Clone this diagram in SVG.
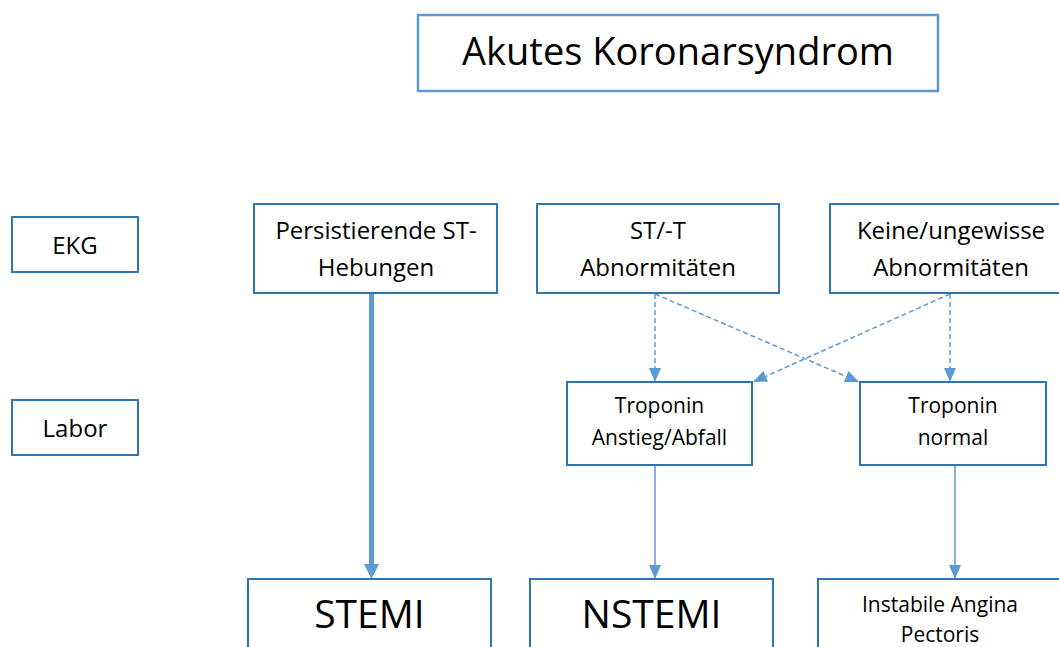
<svg xmlns="http://www.w3.org/2000/svg" width="1059" height="647" viewBox="0 0 1059 647">
  <defs>
    <style>
      .box { fill: #ffffff; stroke: #2E75B6; stroke-width: 2; }
      .title { fill: #ffffff; stroke: #5B9BD5; stroke-width: 2.5; }
      text { font-family: "Open Sans", "Liberation Sans", sans-serif; fill: #000000; text-anchor: middle; }
      .t38 { font-size: 38px; }
      .t23 { font-size: 24px; }
      .t19 { font-size: 21px; }
      .t34 { font-size: 39px; }
      .conn { stroke: #5B9BD5; stroke-width: 1.5; fill: none; }
      .dash { stroke-dasharray: 5 3; }
      .thick { stroke-width: 5; }
    </style>
    <marker id="arr" markerUnits="userSpaceOnUse" markerWidth="14" markerHeight="12" refX="14" refY="6" orient="auto">
      <path d="M0,0 L14,6 L0,12 z" fill="#5B9BD5"/>
    </marker>
  </defs>
  <rect width="1059" height="647" fill="#ffffff"/>

  <g id="connectors">
    <line class="conn thick" x1="371.5" y1="294" x2="371.5" y2="566"/>
    <path d="M364,564 L379,564 L371.5,579 z" fill="#5B9BD5"/>
    <line class="conn dash" x1="655" y1="294" x2="655" y2="382" marker-end="url(#arr)"/>
    <line class="conn dash" x1="655" y1="294" x2="859" y2="382" marker-end="url(#arr)"/>
    <line class="conn dash" x1="950" y1="294" x2="950" y2="382" marker-end="url(#arr)"/>
    <line class="conn dash" x1="950" y1="294" x2="753" y2="382" marker-end="url(#arr)"/>
    <line class="conn" x1="655" y1="466" x2="655" y2="579" marker-end="url(#arr)"/>
    <line class="conn" x1="955" y1="466" x2="955" y2="579" marker-end="url(#arr)"/>
  </g>

  <g id="title">
    <rect class="title" x="418" y="15" width="520" height="76"/>
    <text class="t38" x="678" y="65">Akutes Koronarsyndrom</text>
  </g>

  <g id="ekg">
    <rect class="box" x="12" y="217" width="126" height="55"/>
    <text class="t23" x="75" y="254">EKG</text>
  </g>

  <g id="labor">
    <rect class="box" x="12" y="400" width="126" height="55"/>
    <text class="t23" x="75" y="437">Labor</text>
  </g>

  <g id="persistierende">
    <rect class="box" x="254" y="204" width="243" height="89"/>
    <text class="t23" x="376" y="239">Persistierende ST-</text>
    <text class="t23" x="376" y="276">Hebungen</text>
  </g>

  <g id="st-t">
    <rect class="box" x="537" y="204" width="242" height="89"/>
    <text class="t23" x="658" y="239">ST/-T</text>
    <text class="t23" x="658" y="276">Abnormitäten</text>
  </g>

  <g id="keine">
    <rect class="box" x="830" y="204" width="242" height="89"/>
    <text class="t23" x="951" y="239">Keine/ungewisse</text>
    <text class="t23" x="951" y="276">Abnormitäten</text>
  </g>

  <g id="troponin-anstieg">
    <rect class="box" x="567" y="382" width="185" height="83"/>
    <text class="t19" x="659.5" y="413">Troponin</text>
    <text class="t19" x="659.5" y="445">Anstieg/Abfall</text>
  </g>

  <g id="troponin-normal">
    <rect class="box" x="860" y="382" width="186" height="83"/>
    <text class="t19" x="953" y="413">Troponin</text>
    <text class="t19" x="953" y="445">normal</text>
  </g>

  <g id="stemi">
    <rect class="box" x="248" y="579" width="243" height="90"/>
    <text class="t34" x="369.5" y="628">STEMI</text>
  </g>

  <g id="nstemi">
    <rect class="box" x="530" y="579" width="243" height="90"/>
    <text class="t34" x="651.5" y="628">NSTEMI</text>
  </g>

  <g id="instabile">
    <rect class="box" x="818" y="579" width="260" height="90"/>
    <text class="t19" x="940" y="612">Instabile Angina</text>
    <text class="t19" x="940" y="642">Pectoris</text>
  </g>
</svg>
